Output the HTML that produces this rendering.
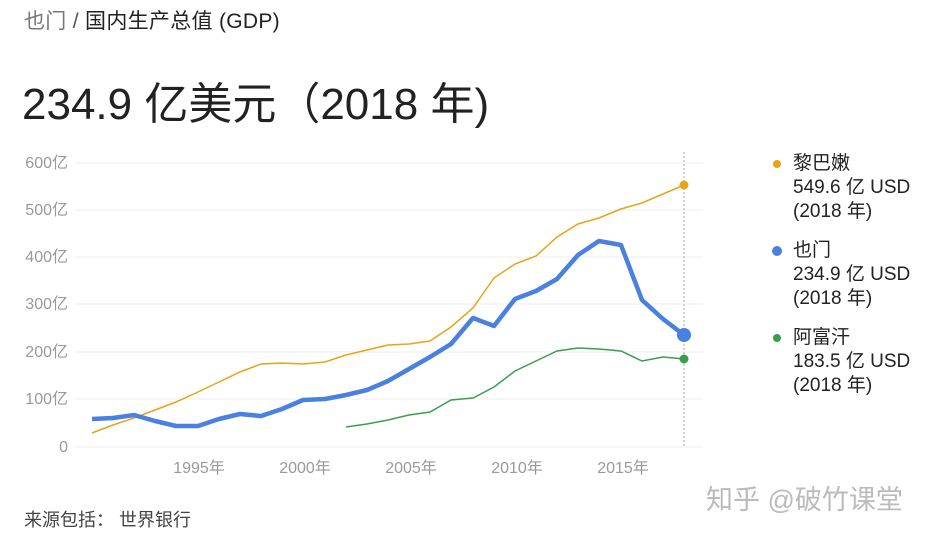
<!DOCTYPE html>
<html><head><meta charset="utf-8"><style>
body{margin:0;width:931px;height:534px;background:#fff;overflow:hidden;position:relative;font-family:"Liberation Sans","Noto Sans CJK SC",sans-serif}
.a{position:absolute;white-space:nowrap}
</style></head><body>
<div class="a" style="left:24px;top:5px;font-size:21px;letter-spacing:0.3px;color:#222"><span style="color:#777">也门</span> <span style="color:#555">/</span> 国内生产总值 (GDP)</div>
<div class="a" style="left:22px;top:68px;font-size:44px;color:#222">234.9 亿美元（2018 年)</div>
<svg class="a" style="left:0;top:0" width="931" height="534">
<g stroke="#eee" stroke-width="1">
<line x1="75" x2="703" y1="163" y2="163"/><line x1="75" x2="703" y1="210" y2="210"/><line x1="75" x2="703" y1="257" y2="257"/><line x1="75" x2="703" y1="304" y2="304"/><line x1="75" x2="703" y1="352" y2="352"/><line x1="75" x2="703" y1="399" y2="399"/><line x1="75" x2="703" y1="447" y2="447"/>
</g>
<line x1="684" x2="684" y1="152" y2="447" stroke="#aaa" stroke-dasharray="2,2"/>
<g font-size="16" fill="#999" text-anchor="end">
<text x="68" y="168">600亿</text><text x="68" y="215">500亿</text><text x="68" y="262">400亿</text><text x="68" y="309">300亿</text><text x="68" y="357">200亿</text><text x="68" y="404">100亿</text><text x="68" y="452">0</text>
</g>
<g font-size="16" fill="#999" text-anchor="middle">
<text x="199" y="473">1995年</text><text x="305" y="473">2000年</text><text x="411" y="473">2005年</text><text x="517" y="473">2010年</text><text x="623" y="473">2015年</text>
</g>
<polyline fill="none" stroke="#e8a317" stroke-width="1.5" points="92,433 113,425 134,418 155,410 176,402 198,392 219,382 240,372 261,364 282,363 303,364 325,362 346,355 367,350 388,345 409,344 430,341 451,327 473,308 494,278 515,264 536,256 557,237 578,224 599,218 621,209 642,203 663,194 684,185"/>
<polyline fill="none" stroke="#3b9e4c" stroke-width="1.5" points="346,427 367,424 388,420 409,415 430,412 451,400 473,398 494,387 515,371 536,361 557,351 578,348 599,349 621,351 642,361 663,357 684,359"/>
<polyline fill="none" stroke="#4a80e0" stroke-width="4.5" stroke-linejoin="round" points="92,419 113,418 134,415 155,421 176,426 198,426 219,419 240,414 261,416 282,409 303,400 325,399 346,395 367,390 388,381 409,369 430,357 451,344 473,318 494,326 515,299 536,291 557,279 578,255 599,241 621,245 642,300 663,319 684,335"/>
<circle cx="684" cy="185" r="4.5" fill="#e8a317"/>
<circle cx="684" cy="359" r="4.5" fill="#3b9e4c"/>
<circle cx="684" cy="335" r="7" fill="#4a80e0"/>
<circle cx="777" cy="164" r="4" fill="#e8a317"/>
<circle cx="777" cy="251" r="5" fill="#4a80e0"/>
<circle cx="777" cy="338" r="4" fill="#3b9e4c"/>
</svg>
<div class="a" style="left:793px;top:152px;font-size:19px;line-height:24px;color:#222">黎巴嫩<br>549.6 亿 USD<br>(2018 年)</div>
<div class="a" style="left:793px;top:239px;font-size:19px;line-height:24px;color:#222">也门<br>234.9 亿 USD<br>(2018 年)</div>
<div class="a" style="left:793px;top:326px;font-size:19px;line-height:24px;color:#222">阿富汗<br>183.5 亿 USD<br>(2018 年)</div>
<div class="a" style="left:24px;top:506px;font-size:18px;color:#444">来源包括：&nbsp;世界银行</div>
<div class="a" style="left:706px;top:478px;font-size:27px;color:#bbb">知乎 @破竹课堂</div>
</body></html>
